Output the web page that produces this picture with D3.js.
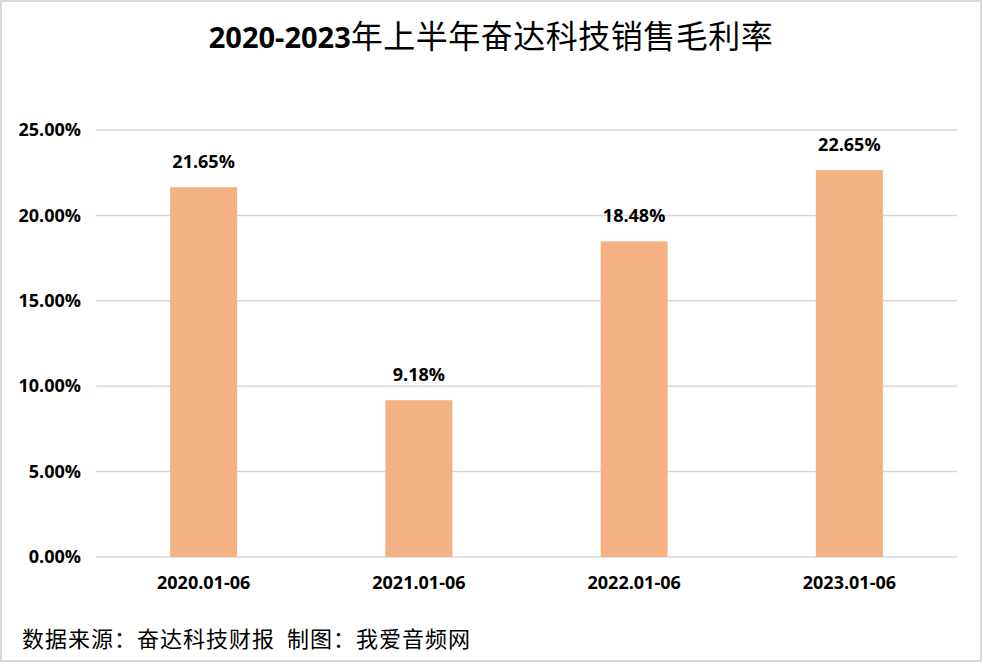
<!DOCTYPE html>
<html lang="zh">
<head>
    <meta charset="UTF-8" />
    <title>奋达科技销售毛利率</title>
    <script src="https://d3js.org/d3.v7.min.js"></script>
    <style>
        body { margin: 0; background: #fff; }
        text { font-family: "Open Sans", "Noto Sans CJK SC", sans-serif; }
    </style>
</head>
<body>
    <script>
        var w = 983;
        var h = 664;

        var periods = ["2020.01-06", "2021.01-06", "2022.01-06", "2023.01-06"];
        var margins = [21.65, 9.18, 18.48, 22.65];
        var yTicks = [0, 5, 10, 15, 20, 25];

        var svg = d3.select("body")
            .append("svg")
            .attr("width", w)
            .attr("height", h);

        // outer frame
        svg.append("rect")
            .attr("x", 1).attr("y", 1)
            .attr("width", w - 3).attr("height", h - 4)
            .attr("fill", "#fff")
            .attr("stroke", "#d9d9d9")
            .attr("stroke-width", 2);

        var xScale = d3.scaleBand()
            .domain(periods)
            .range([96, 957]);

        var yScale = d3.scaleLinear()
            .domain([0, 25])
            .range([557, 130]);

        // gridlines
        svg.selectAll("line.grid")
            .data(yTicks)
            .enter()
            .append("line")
            .attr("class", "grid")
            .attr("x1", 96)
            .attr("x2", 957)
            .attr("y1", function(d) { return yScale(d); })
            .attr("y2", function(d) { return yScale(d); })
            .attr("stroke", "#d9d9d9")
            .attr("stroke-width", 1.5);

        var labelFont = "'Open Sans', 'Noto Sans CJK SC', sans-serif";

        // y axis labels
        var yAxis = d3.axisLeft(yScale)
            .tickValues(yTicks)
            .tickSize(0)
            .tickPadding(15)
            .tickFormat(function(d) { return d.toFixed(2) + "%"; });

        var gy = svg.append("g")
            .attr("transform", "translate(96,0)")
            .call(yAxis);
        gy.select(".domain").remove();
        gy.selectAll("text")
            .attr("font-size", 18)
            .attr("font-weight", "bold")
            .attr("fill", "#000")
            .style("font-family", labelFont);

        // x axis labels
        var xAxis = d3.axisBottom(xScale).tickSize(0).tickPadding(19);
        var gx = svg.append("g")
            .attr("transform", "translate(0,557)")
            .call(xAxis);
        gx.select(".domain").remove();
        gx.selectAll("text")
            .attr("font-size", 18)
            .attr("font-weight", "bold")
            .attr("fill", "#000")
            .style("font-family", labelFont);

        // bars
        var barW = 67;
        svg.selectAll("rect.bar")
            .data(margins)
            .enter()
            .append("rect")
            .attr("class", "bar")
            .attr("x", function(d, i) { return xScale(periods[i]) + xScale.bandwidth() / 2 - barW / 2; })
            .attr("y", function(d) { return yScale(d); })
            .attr("width", barW)
            .attr("height", function(d) { return 557 - yScale(d); })
            .attr("fill", "#f4b183");

        // value labels
        svg.selectAll("text.val")
            .data(margins)
            .enter()
            .append("text")
            .attr("class", "val")
            .attr("x", function(d, i) { return xScale(periods[i]) + xScale.bandwidth() / 2; })
            .attr("y", function(d) { return yScale(d) - 19; })
            .attr("text-anchor", "middle")
            .attr("font-size", 18)
            .attr("font-weight", "bold")
            .attr("fill", "#000")
            .text(function(d) { return d.toFixed(2) + "%"; });

        // title: latin part bold, chinese part regular
        var title = svg.append("text")
            .attr("x", 491)
            .attr("y", 48)
            .attr("text-anchor", "middle")
            .attr("fill", "#000");
        title.append("tspan")
            .attr("font-size", 29)
            .attr("font-weight", "bold")
            .text("2020-2023");
        title.append("tspan")
            .attr("font-size", 32)
            .attr("letter-spacing", 0.5)
            .style("font-family", "'Noto Sans CJK SC', sans-serif")
            .text("年上半年奋达科技销售毛利率");

        // source note
        var note = svg.append("text")
            .attr("x", 22)
            .attr("y", 647)
            .attr("font-size", 22)
            .attr("letter-spacing", 1)
            .attr("fill", "#000")
            .style("font-family", "'Noto Sans CJK SC', sans-serif");
        note.append("tspan").text("数据来源：奋达科技财报");
        note.append("tspan").attr("dx", 12).text("制图：我爱音频网");
    </script>
</body>
</html>
